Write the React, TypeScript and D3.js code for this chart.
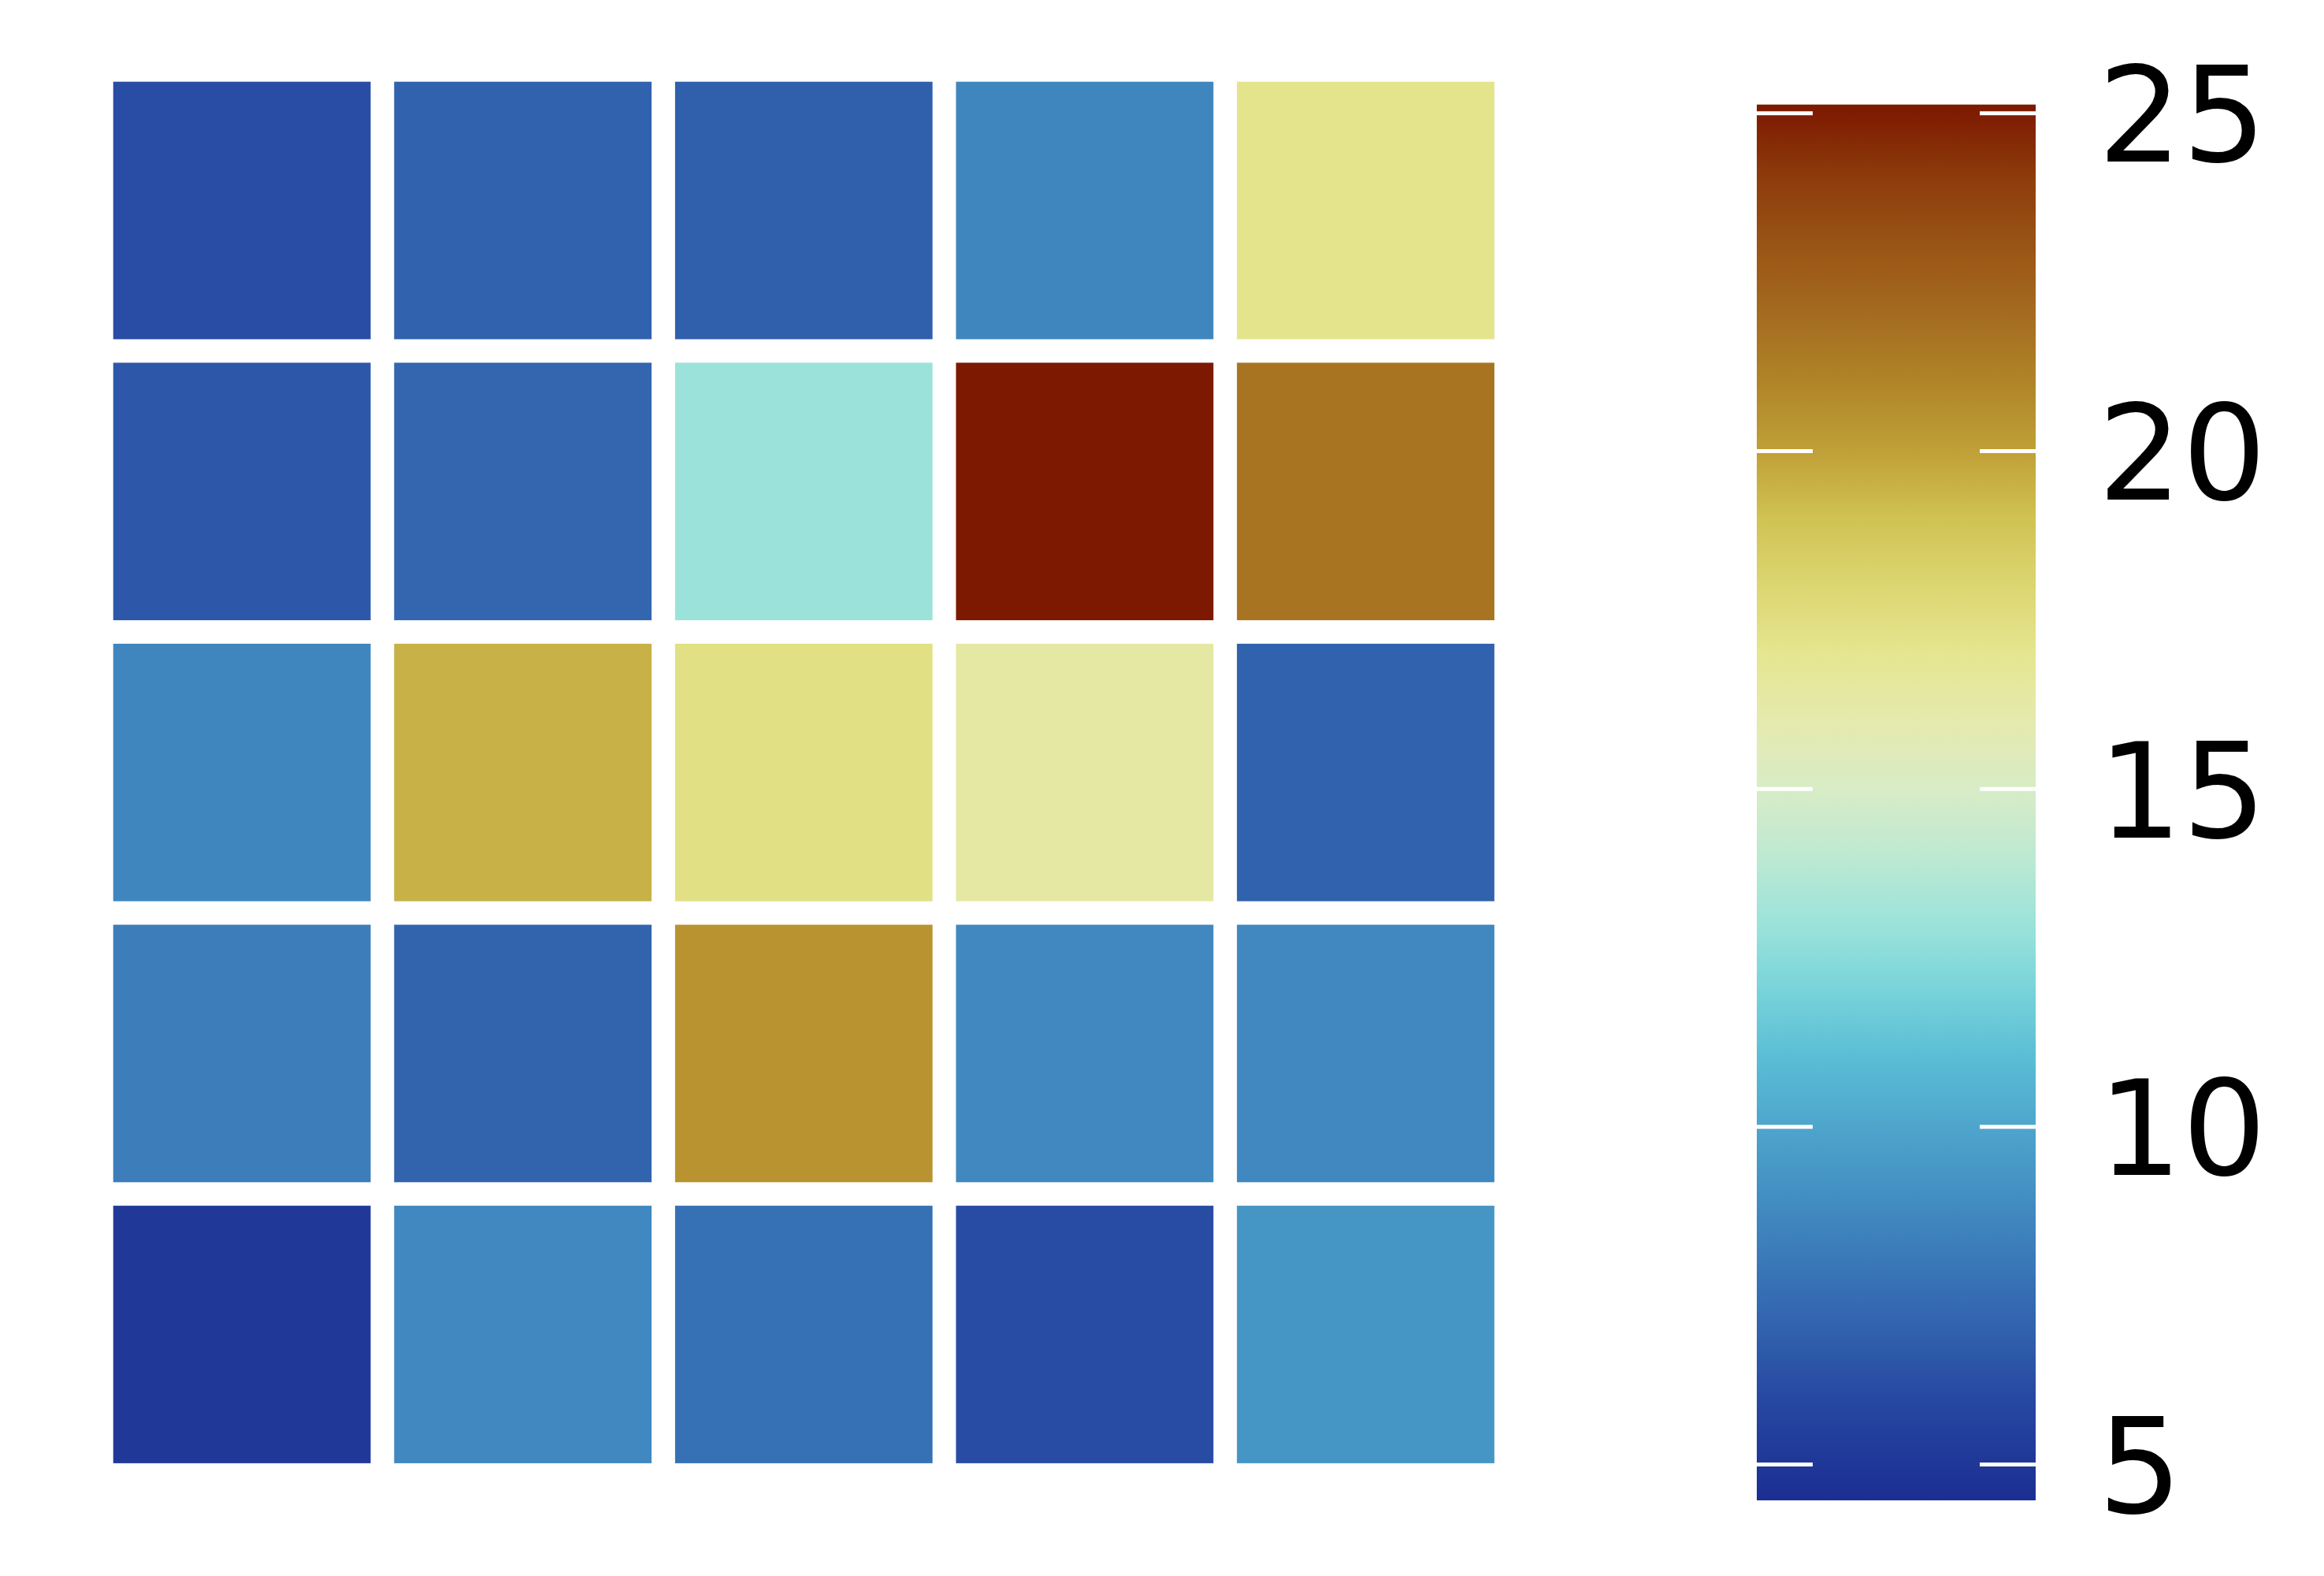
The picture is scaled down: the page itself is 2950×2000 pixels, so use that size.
import { useEffect, useRef } from 'react';
import * as d3 from 'd3';

// grid values, top row first
const rows = ['r1', 'r2', 'r3', 'r4', 'r5'];
const cols = ['c1', 'c2', 'c3', 'c4', 'c5'];
const row1 = [6.2, 7.0, 6.9, 8.6, 17.1];
const row2 = [6.6, 7.2, 13.0, 25.1, 21.7];
const row3 = [8.6, 19.5, 17.4, 16.4, 7.0];
const row4 = [8.2, 7.1, 20.5, 8.7, 8.7];
const row5 = [5.1, 8.7, 7.7, 6.1, 9.3];
const values = [row1, row2, row3, row4, row5];

// colour bar range and ticks
const colorDomain = [4.47, 25.13];
const ticks = [5, 10, 15, 20, 25];

// colormap (roma reversed), value -> colour
const cmapValues = [4.47, 5, 6, 7, 8, 9, 10, 11, 12, 13, 14, 15, 16, 17, 18, 19, 20, 21, 22, 23, 24, 25.13];
const cmapColors = [
  '#1b2f91', '#1f3798', '#2748a2', '#3162ad', '#3a78b8', '#438fc2', '#4ea5cc', '#5abdd5',
  '#77d3da', '#9be3da', '#bde9d2', '#d8ecc6', '#e5eaae', '#e5e690', '#dcd672', '#d0c253',
  '#c0a038', '#b08528', '#a56c20', '#9a5516', '#8e3d0c', '#7c1800',
];

export default function App() {
  const svgRef = useRef<SVGSVGElement>(null);
  const width = 2950;
  const height = 2000;

  useEffect(() => {
    if (!svgRef.current) return;
    const svg = d3.select(svgRef.current);
    svg.selectAll('*').remove();

    const color = d3.scaleLinear<string>()
      .domain(cmapValues)
      .range(cmapColors)
      .interpolate(d3.interpolateRgb)
      .clamp(true);

    // heatmap grid
    const x = d3.scaleBand().domain(cols).range([128.8, 1911.8]).paddingInner(0.0836).paddingOuter(0.0418);
    const y = d3.scaleBand().domain(rows).range([88.8, 1871.8]).paddingInner(0.0836).paddingOuter(0.0418);

    const cells = values.flatMap((r, i) => r.map((v, j) => ({ row: rows[i], col: cols[j], v })));

    svg.append('g')
      .selectAll('rect')
      .data(cells)
      .enter()
      .append('rect')
      .attr('x', d => x(d.col)!)
      .attr('y', d => y(d.row)!)
      .attr('width', x.bandwidth())
      .attr('height', y.bandwidth())
      .attr('fill', d => color(d.v));

    // colour bar
    const cbLeft = 2230;
    const cbRight = 2584;
    const cy = d3.scaleLinear().domain(colorDomain).range([1904, 132.7]);

    const defs = svg.append('defs');
    const grad = defs.append('linearGradient')
      .attr('id', 'cbar')
      .attr('x1', 0).attr('y1', 1).attr('x2', 0).attr('y2', 0);
    grad.selectAll('stop')
      .data(cmapValues)
      .enter()
      .append('stop')
      .attr('offset', d => (d - colorDomain[0]) / (colorDomain[1] - colorDomain[0]))
      .attr('stop-color', d => color(d));

    svg.append('rect')
      .attr('x', cbLeft)
      .attr('y', cy(colorDomain[1]))
      .attr('width', cbRight - cbLeft)
      .attr('height', cy(colorDomain[0]) - cy(colorDomain[1]))
      .attr('fill', 'url(#cbar)');

    const tickLen = 71;
    const tg = svg.append('g');
    ticks.forEach(t => {
      tg.append('line')
        .attr('x1', cbLeft).attr('x2', cbLeft + tickLen)
        .attr('y1', cy(t)).attr('y2', cy(t))
        .attr('stroke', 'white').attr('stroke-width', 5);
      tg.append('line')
        .attr('x1', cbRight - tickLen).attr('x2', cbRight)
        .attr('y1', cy(t)).attr('y2', cy(t))
        .attr('stroke', 'white').attr('stroke-width', 5);
    });

    const fontSize = 168;
    svg.append('g')
      .selectAll('text')
      .data(ticks)
      .enter()
      .append('text')
      .attr('x', 2663)
      .attr('y', d => cy(d) + fontSize * 0.365)
      .style('font-family', '"DejaVu Sans", sans-serif')
      .style('font-size', `${fontSize}px`)
      .style('fill', 'black')
      .text(d => d);
  }, []);

  return (
    <svg
      ref={svgRef}
      width={width}
      height={height}
      style={{ position: 'absolute', top: 0, left: 0, background: 'white' }}
    />
  );
}
